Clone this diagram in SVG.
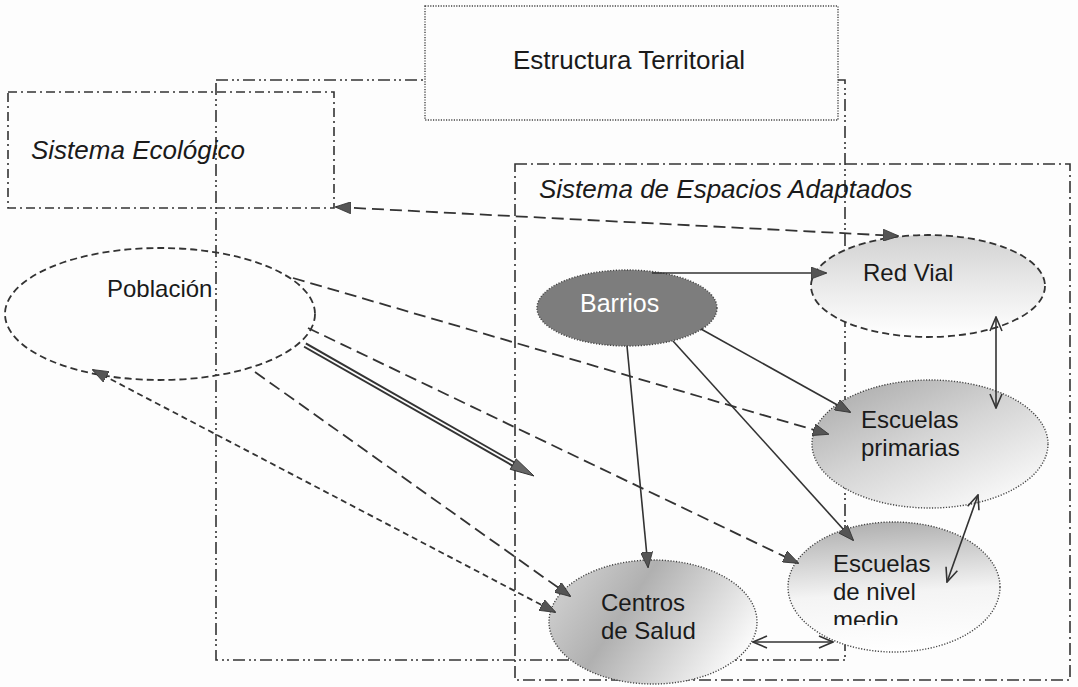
<svg xmlns="http://www.w3.org/2000/svg" width="1078" height="687" viewBox="0 0 1078 687">
<style>
text{font-family:"Liberation Sans",Arial,sans-serif;fill:#1a1a1a;}
.hdr{font-size:26px;}
.it{font-style:italic;}
.lbl{font-size:24px;}
.ddot{fill:none;stroke:#333;stroke-width:1.6;stroke-dasharray:12 4 2 3 2 4;}
.dd{fill:none;stroke:#333;stroke-width:1.6;stroke-dasharray:12 4 2 4;}
.dds{fill:none;stroke:#333;stroke-width:1.6;stroke-dasharray:9 4 2 4;}
.dot{stroke:#444;stroke-width:1.4;stroke-dasharray:1.2 1.6;}
.dashE{stroke:#333;stroke-width:1.8;stroke-dasharray:7 4;}
.cl{fill:none;stroke:#333;stroke-width:1.8;stroke-dasharray:12 6;}
.cs{fill:none;stroke:#333;stroke-width:1.8;stroke-dasharray:6 4;}
.sol{fill:none;stroke:#333;stroke-width:1.6;}
</style>
<defs>
<marker id="tri" viewBox="0 0 16 12" refX="15" refY="6" markerWidth="16" markerHeight="12" markerUnits="userSpaceOnUse" orient="auto-start-reverse"><path d="M0,0 L16,6 L0,12 z" fill="#555" stroke="#333" stroke-width="0.8"/></marker>
<marker id="vee" viewBox="0 0 16 14" refX="15" refY="7" markerWidth="16" markerHeight="14" markerUnits="userSpaceOnUse" orient="auto-start-reverse"><path d="M1,1 L15,7 L1,13" fill="none" stroke="#333" stroke-width="1.6"/></marker>
<linearGradient id="gRed" x1="0.5" y1="0" x2="0.5" y2="1"><stop offset="0" stop-color="#d2d2d2"/><stop offset="0.55" stop-color="#ececec"/><stop offset="1" stop-color="#ffffff"/></linearGradient>
<linearGradient id="gPrim" x1="0.1" y1="0" x2="0.9" y2="1"><stop offset="0" stop-color="#aaaaaa"/><stop offset="0.45" stop-color="#d4d4d4"/><stop offset="1" stop-color="#ffffff"/></linearGradient>
<linearGradient id="gMed" x1="0.4" y1="0" x2="0.5" y2="1"><stop offset="0" stop-color="#b0b0b0"/><stop offset="0.55" stop-color="#f4f4f4"/><stop offset="1" stop-color="#ffffff"/></linearGradient>
<linearGradient id="gCen" x1="0" y1="0.3" x2="1" y2="0.7"><stop offset="0" stop-color="#cfcfcf"/><stop offset="0.35" stop-color="#b0b0b0"/><stop offset="1" stop-color="#ffffff"/></linearGradient>
<clipPath id="clipMed"><rect x="780" y="500" width="240" height="125"/></clipPath>
</defs>
<rect x="0" y="0" width="1078" height="687" fill="#fdfdfd"/>

<g id="estructura-territorial">
<rect class="ddot" x="216" y="80" width="629" height="580"/>
<rect x="425" y="6" width="413" height="114" fill="#fdfdfd" stroke="#444" stroke-width="1.4" stroke-dasharray="1.2 1.4"/>
<text class="hdr" x="513" y="69">Estructura Territorial</text>
</g>

<g id="sistema-ecologico">
<rect class="dds" x="8" y="92" width="326" height="116"/>
<text class="hdr it" x="31" y="159">Sistema Ecológico</text>
</g>

<g id="sistema-espacios-adaptados">
<rect class="dd" x="515" y="164" width="555" height="516"/>
<text class="hdr it" x="539" y="198">Sistema de Espacios Adaptados</text>
</g>

<g id="poblacion">
<ellipse class="dashE" cx="160" cy="314" rx="155" ry="66" fill="none"/>
<text class="lbl" x="107" y="297">Población</text>
</g>

<g id="red-vial">
<ellipse class="dashE" cx="928" cy="286" rx="117" ry="51" fill="url(#gRed)"/>
<text class="lbl" x="863" y="281">Red Vial</text>
</g>

<g id="barrios">
<ellipse class="dot" cx="627" cy="308" rx="90" ry="38" fill="#7d7d7d"/>
<text class="lbl" x="580" y="312" style="fill:#ffffff;font-size:25px">Barrios</text>
</g>

<g id="escuelas-primarias">
<ellipse class="dot" cx="930" cy="444" rx="118" ry="64" fill="url(#gPrim)"/>
<text class="lbl" x="861" y="428">Escuelas</text>
<text class="lbl" x="861" y="456">primarias</text>
</g>

<g id="escuelas-nivel-medio">
<ellipse class="dot" cx="894" cy="587" rx="106" ry="65" fill="url(#gMed)"/>
<g clip-path="url(#clipMed)">
<text class="lbl" x="833" y="572">Escuelas</text>
<text class="lbl" x="833" y="600">de nivel</text>
<text class="lbl" x="833" y="628">medio</text>
</g>
</g>

<g id="centros-de-salud">
<ellipse class="dot" cx="653" cy="622" rx="104" ry="62" fill="url(#gCen)"/>
<text class="lbl" x="601" y="611">Centros</text>
<text class="lbl" x="601" y="639">de Salud</text>
</g>

<g id="connectors">
<path class="cl" d="M336,207 L898,236" marker-start="url(#tri)" marker-end="url(#tri)"/>
<path class="cl" d="M293,278 L828,434" marker-end="url(#tri)"/>
<path class="cl" d="M308,328 L798,563" marker-end="url(#tri)"/>
<path class="cl" d="M255,372 L570,596" marker-end="url(#tri)"/>
<path class="cs" d="M93,370 L555,612" marker-start="url(#tri)" marker-end="url(#tri)"/>
<g id="double-arrow">
<path d="M305,345 L515,465" fill="none" stroke="#333" stroke-width="5.5"/>
<path d="M303,344 L517,466" fill="none" stroke="#fdfdfd" stroke-width="1.8"/>
<polygon points="534,476 510.2,469.3 516.2,458.9" fill="#666" stroke="#333" stroke-width="1"/>
</g>
<path class="sol" d="M652,273 L826,273" marker-end="url(#tri)"/>
<path class="sol" d="M701,329 L850,412" marker-end="url(#tri)"/>
<path class="sol" d="M673,341 L853,540" marker-end="url(#tri)"/>
<path class="sol" d="M627,346 L648,567" marker-end="url(#tri)"/>
<path class="sol" d="M996,317 L996,408" marker-start="url(#vee)" marker-end="url(#vee)"/>
<path class="sol" d="M978,495 L947,582" marker-start="url(#vee)" marker-end="url(#vee)"/>
<path class="sol" d="M753,642 L833,642" marker-start="url(#vee)" marker-end="url(#vee)"/>
</g>
</svg>
